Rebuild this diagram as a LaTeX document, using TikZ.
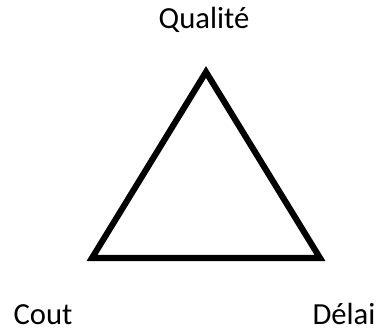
\documentclass[tikz,border=0pt]{standalone}
\usepackage{fontspec}
\setmainfont{Carlito}
\usepackage{tikz}
\usepackage{xcolor}
\usetikzlibrary{positioning}
\definecolor{TriBlack}{HTML}{000000}

\begin{document}
\begin{tikzpicture}[x=0.75pt, y=-0.75pt]
    \useasboundingbox (0,0) rectangle (379,331);
    \tikzset{
        cornerlabel/.style={font=\fontsize{23}{27}\selectfont, TriBlack, anchor=base, inner sep=0pt},
        triline/.style={line width=4.6pt, TriBlack, line join=miter}
    }

    % Corners of the triangle
    \coordinate (apex)  at (206,72);
    \coordinate (left)  at (92,258);
    \coordinate (right) at (320,258);

    % Triangle
    \draw[triline] (apex) -- (left) -- (right) -- cycle;

    % Labels
    \node[cornerlabel] (qualite) at (204,29) {Qualité};
    \node[cornerlabel] (cout) at (43,325) {Cout};
    \node[cornerlabel] (delai) at (344,325) {Délai};

\end{tikzpicture}
\end{document}
